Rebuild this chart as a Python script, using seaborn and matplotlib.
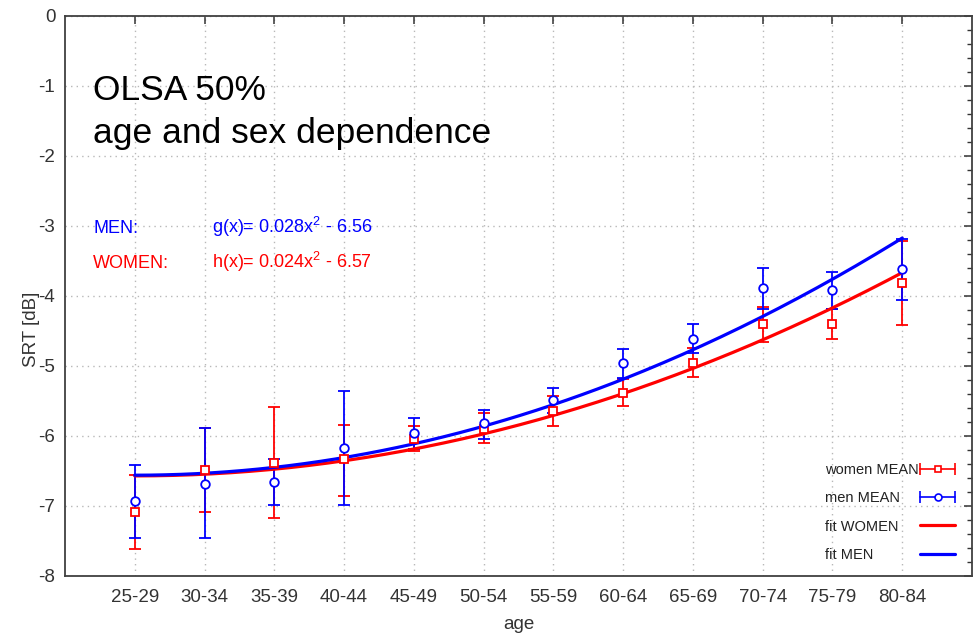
import numpy as np
import pandas as pd
import matplotlib
matplotlib.use("Agg")
import matplotlib.pyplot as plt
import seaborn as sns
from matplotlib.lines import Line2D
from matplotlib.legend_handler import HandlerLine2D
from matplotlib.ticker import MultipleLocator

# ---------------- data ----------------
age_groups = ["25-29", "30-34", "35-39", "40-44", "45-49", "50-54",
              "55-59", "60-64", "65-69", "70-74", "75-79", "80-84"]

men_mean  = [-6.93, -6.68, -6.66, -6.17, -5.96, -5.82, -5.49, -4.95, -4.61, -3.89, -3.92, -3.62]
men_upper = [-6.42, -5.88, -6.33, -5.35, -5.74, -5.63, -5.31, -4.75, -4.40, -3.60, -3.65, -3.18]
men_lower = [-7.46, -7.46, -6.99, -6.99, -6.18, -6.04, -5.67, -5.17, -4.82, -4.18, -4.19, -4.06]

women_mean  = [-7.09, -6.49, -6.39, -6.33, -6.04, -5.90, -5.64, -5.38, -4.95, -4.40, -4.40, -3.82]
women_upper = [-6.56, -5.89, -5.58, -5.84, -5.86, -5.67, -5.43, -5.19, -4.74, -4.15, -4.18, -3.22]
women_lower = [-7.61, -7.09, -7.17, -6.85, -6.22, -6.10, -5.86, -5.57, -5.15, -4.65, -4.62, -4.42]

# fit coefficients shown on the chart: f(x) = a*x^2 + c
men_fit_a, men_fit_c = 0.028, -6.56
women_fit_a, women_fit_c = 0.024, -6.57

legend_labels = ["women MEAN", "men MEAN", "fit WOMEN", "fit MEN"]

RED = "#ff0000"
BLUE = "#0000ff"
TXT = "#222222"

# ---------------- style ----------------
sns.set_theme(style="white")
plt.rcParams["font.family"] = ["Liberation Sans", "DejaVu Sans"]
plt.rcParams["mathtext.default"] = "regular"
plt.rcParams["axes.unicode_minus"] = False

fig = plt.figure(figsize=(9.75, 6.38), dpi=100)
ax = fig.add_axes([65 / 975, 1 - 576 / 638, (972 - 65) / 975, (576 - 16) / 638])

x = np.arange(len(age_groups))

ax.set_axisbelow(True)
ax.grid(True, which="major", linestyle=(0, (1, 3)), color="#b8b8b8", linewidth=1.0)

# error bars
for mean, lo, hi, col, z in [
    (women_mean, women_lower, women_upper, RED, 2.1),
    (men_mean, men_lower, men_upper, BLUE, 2.2),
]:
    m = np.array(mean); l = np.array(lo); h = np.array(hi)
    ax.errorbar(x, m, yerr=[m - l, h - m], fmt="none", ecolor=col,
                elinewidth=1.3, capsize=4.5, capthick=1.3, zorder=z)

# fit curves
xs = np.linspace(0, len(age_groups) - 1, 200)
fit_df = pd.DataFrame({
    "x": xs,
    "women": women_fit_a * xs ** 2 + women_fit_c,
    "men": men_fit_a * xs ** 2 + men_fit_c,
})
sns.lineplot(data=fit_df, x="x", y="women", color=RED, linewidth=2.3, ax=ax, zorder=3)
sns.lineplot(data=fit_df, x="x", y="men", color=BLUE, linewidth=2.3, ax=ax, zorder=3.1)

# markers
ax.plot(x, women_mean, linestyle="none", marker="s", markersize=6.2,
        markerfacecolor="white", markeredgecolor=RED, markeredgewidth=1.3, zorder=4)
ax.plot(x, men_mean, linestyle="none", marker="o", markersize=6.2,
        markerfacecolor="white", markeredgecolor=BLUE, markeredgewidth=1.3, zorder=4.1)

# axes
ax.set_xlim(-1, len(age_groups))
ax.set_ylim(-8, 0)
ax.set_xticks(x)
ax.set_xticklabels(age_groups)
ax.yaxis.set_major_locator(MultipleLocator(1))
ax.yaxis.set_minor_locator(MultipleLocator(0.2))
ax.yaxis.set_major_formatter(matplotlib.ticker.FuncFormatter(lambda v, p: f"{v:.0f}"))
ax.tick_params(axis="both", which="both", direction="in", top=True, right=True,
               labeltop=False, labelright=False, colors="#333333", labelcolor="#333333")
ax.tick_params(axis="both", which="major", length=6, width=1.1, labelsize=13.5)
ax.tick_params(axis="y", which="minor", length=3.5, width=1.0)
ax.tick_params(axis="y", which="major", pad=7)
ax.tick_params(axis="x", which="major", pad=9)
for s in ax.spines.values():
    s.set_color("#404040")
    s.set_linewidth(1.3)

ax.set_xlabel("age", fontsize=13.5, color="#333333")
ax.set_ylabel("SRT [dB]", fontsize=13.5, color="#333333")
ax.xaxis.set_label_coords(0.5, -0.072)
ax.yaxis.set_label_coords(-0.028, 0.44)

# annotations
ax.text(0.031, 0.85, "OLSA 50%", transform=ax.transAxes, fontsize=25.5, color="black")
ax.text(0.031, 0.773, "age and sex dependence", transform=ax.transAxes, fontsize=25.5, color="black")
ax.text(0.031, 0.6125, "MEN:", transform=ax.transAxes, fontsize=13, color=BLUE)
ax.text(0.031, 0.55, "WOMEN:", transform=ax.transAxes, fontsize=13, color=RED)
ax.text(0.162, 0.6125, f"g(x)= {men_fit_a}x$^{{2}}$ - {abs(men_fit_c):.2f}",
        transform=ax.transAxes, fontsize=13, color=BLUE)
ax.text(0.162, 0.55, f"h(x)= {women_fit_a}x$^{{2}}$ - {abs(women_fit_c):.2f}",
        transform=ax.transAxes, fontsize=13, color=RED)

# legend: labels (left aligned) + handles (right column)
LFS = 10.5
LSP = 0.98
top_y = 1 - 463 / 638
blank = Line2D([], [], alpha=0)
leg1 = ax.legend([blank] * 4, legend_labels, loc="upper left",
                 bbox_to_anchor=(825 / 975, top_y), bbox_transform=fig.transFigure,
                 frameon=False, handlelength=0, handletextpad=0, borderpad=0,
                 borderaxespad=0, labelspacing=LSP, fontsize=LFS, labelcolor=TXT)
ax.add_artist(leg1)

cap_w = Line2D([], [], color=RED, marker="|", markersize=8, linewidth=1.2, markeredgewidth=1.2)
mk_w = Line2D([], [], color=RED, marker="s", markersize=5, linestyle="none",
              markerfacecolor="white", markeredgewidth=1.2)
cap_m = Line2D([], [], color=BLUE, marker="|", markersize=8, linewidth=1.2, markeredgewidth=1.2)
mk_m = Line2D([], [], color=BLUE, marker="o", markersize=5, linestyle="none",
              markerfacecolor="white", markeredgewidth=1.2)
fit_w = Line2D([], [], color=RED, linewidth=2.3)
fit_m = Line2D([], [], color=BLUE, linewidth=2.3)

hm = {cap_w: HandlerLine2D(numpoints=2, marker_pad=0),
      cap_m: HandlerLine2D(numpoints=2, marker_pad=0)}
leg2 = ax.legend([(cap_w, mk_w), (cap_m, mk_m), fit_w, fit_m], [" "] * 4,
                 loc="upper left", handler_map=hm,
                 bbox_to_anchor=(916 / 975, top_y), bbox_transform=fig.transFigure,
                 frameon=False, markerfirst=False, handlelength=2.4, handletextpad=0,
                 borderpad=0, borderaxespad=0, labelspacing=LSP, fontsize=LFS)

fig.savefig("out.png", dpi=100)
